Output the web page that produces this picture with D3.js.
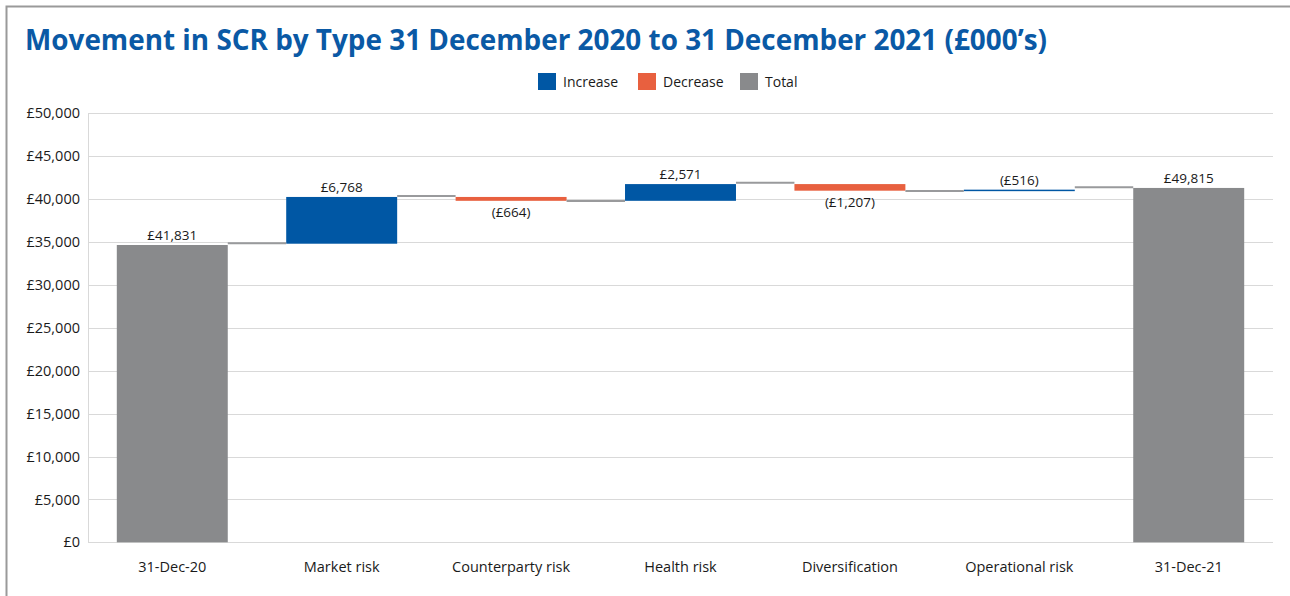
<!DOCTYPE html>
<html>
<head>
<meta charset="utf-8">
<script src="https://cdn.jsdelivr.net/npm/d3@7"></script>
<style>
  html, body { margin: 0; padding: 0; background: #fff; }
  svg { display: block; }
  text { font-family: "Open Sans", "Noto Sans", sans-serif; }
</style>
</head>
<body>
<svg id="chart" width="1290" height="596"></svg>
<script>
// ---- data ----
const categories = ["31-Dec-20", "Market risk", "Counterparty risk", "Health risk", "Diversification", "Operational risk", "31-Dec-21"];
const barStart   = [0,     34800, 40250, 39800, 41750, 40950, 0];
const barEnd     = [34650, 40250, 39800, 41750, 40980, 41100, 41300];
const barType    = ["Total", "Increase", "Decrease", "Increase", "Decrease", "Increase", "Total"];
const valueLabels = ["£41,831", "£6,768", "(£664)", "£2,571", "(£1,207)", "(£516)", "£49,815"];
const connectorLevels = [34850, 40360, 39780, 41900, 40940, 41370];
const yTicks = [0, 5000, 10000, 15000, 20000, 25000, 30000, 35000, 40000, 45000, 50000];
const legendItems = ["Increase", "Decrease", "Total"];
const colors = { Increase: "#0057a4", Decrease: "#e8603f", Total: "#898a8c" };

const svg = d3.select("#chart");

// frame
svg.append("path")
  .attr("d", "M6.5,596 L6.5,6.5 L1290,6.5")
  .attr("fill", "none").attr("stroke", "#9a9a9a").attr("stroke-width", 2);

// title
svg.append("text")
  .attr("x", 25).attr("y", 50)
  .attr("font-size", 29).attr("font-weight", "bold")
  .attr("fill", "#0a59a5")
  .attr("textLength", 1022).attr("lengthAdjust", "spacingAndGlyphs")
  .text("Movement in SCR by Type 31 December 2020 to 31 December 2021 (£000’s)");

// scales
const x = d3.scaleBand().domain(categories).range([88, 1273]).paddingInner(0.345).paddingOuter(0.17);
const y = d3.scaleLinear().domain([0, 50000]).range([542.3, 113.3]);

// gridlines
svg.append("g").selectAll("line").data(yTicks).join("line")
  .attr("x1", 88).attr("x2", 1273)
  .attr("y1", d => Math.round(y(d)) + 0.5).attr("y2", d => Math.round(y(d)) + 0.5)
  .attr("stroke", "#d9d9d9").attr("stroke-width", 1);
svg.append("line")
  .attr("x1", 88.5).attr("x2", 88.5).attr("y1", y(50000)).attr("y2", y(0))
  .attr("stroke", "#d9d9d9");

// y axis
const yAxis = d3.axisLeft(y).tickValues(yTicks).tickSize(0).tickPadding(8)
  .tickFormat(d => "£" + d3.format(",")(d));
const yg = svg.append("g").attr("transform", "translate(88,0)").call(yAxis);
yg.select(".domain").remove();
yg.selectAll("text").attr("font-size", 14.5).attr("fill", "#1a1a1a")
  .attr("font-family", "'Open Sans', sans-serif");

// x axis
const xAxis = d3.axisBottom(x).tickSize(0).tickPadding(19);
const xg = svg.append("g").attr("transform", `translate(0,${y(0)})`).call(xAxis);
xg.select(".domain").remove();
xg.selectAll("text").attr("font-size", 14.5).attr("fill", "#1a1a1a")
  .attr("font-family", "'Open Sans', sans-serif");

// bars
const rows = categories.map((c, i) => ({ c, s: barStart[i], e: barEnd[i], t: barType[i], l: valueLabels[i] }));
svg.append("g").selectAll("rect").data(rows).join("rect")
  .attr("x", d => x(d.c))
  .attr("width", x.bandwidth())
  .attr("y", d => y(Math.max(d.s, d.e)))
  .attr("height", d => Math.max(1.5, Math.abs(y(d.s) - y(d.e))))
  .attr("fill", d => colors[d.t]);

// connectors
svg.append("g").selectAll("line").data(connectorLevels).join("line")
  .attr("x1", (d, i) => x(categories[i]) + x.bandwidth())
  .attr("x2", (d, i) => x(categories[i + 1]))
  .attr("y1", d => y(d)).attr("y2", d => y(d))
  .attr("stroke", "#999a9c").attr("stroke-width", 2);

// value labels
svg.append("g").selectAll("text").data(rows).join("text")
  .attr("x", d => x(d.c) + x.bandwidth() / 2)
  .attr("y", d => d.t === "Decrease" ? y(Math.min(d.s, d.e)) + 16 : y(Math.max(d.s, d.e)) - 5)
  .attr("text-anchor", "middle")
  .attr("font-size", 13.5).attr("fill", "#1a1a1a")
  .text(d => d.l);

// legend
const legendX = [538, 638, 740];
const lg = svg.append("g").selectAll("g").data(legendItems).join("g")
  .attr("transform", (d, i) => `translate(${legendX[i]},73)`);
lg.append("rect").attr("width", 18).attr("height", 17).attr("fill", d => colors[d]);
lg.append("text").attr("x", 25).attr("y", 14).attr("font-size", 14).attr("fill", "#1a1a1a").text(d => d);
</script>
</body>
</html>
